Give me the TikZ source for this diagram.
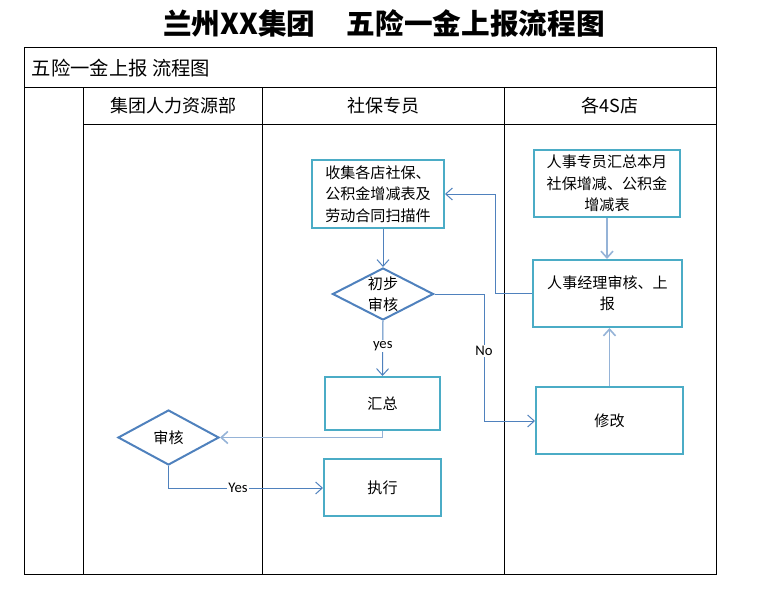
\documentclass[tikz,border=0pt]{standalone}
\usepackage{fontspec}
\setmainfont{Noto Sans CJK SC}
\newfontfamily\latinf{Carlito}
\usetikzlibrary{shapes.geometric,arrows.meta}
\definecolor{boxc}{HTML}{4BACC6}
\definecolor{linec}{HTML}{4F81BD}
\definecolor{lightc}{HTML}{95B3D7}
\tikzset{
  frame/.style={draw=black,line width=0.75pt},
  box/.style={draw=boxc,line width=1.5pt,rectangle,inner sep=0pt,align=center,font=\fontsize{11.3pt}{16pt}\selectfont},
  dia/.style={draw=linec,line width=1.5pt,diamond,inner sep=0pt},
  dtext/.style={align=center,font=\fontsize{11.3pt}{16pt}\selectfont},
  conn/.style={draw=linec,line width=0.75pt,-{Straight Barb[length=5pt,width=9pt]}},
  connl/.style={draw=lightc,line width=1.2pt,-{Straight Barb[length=5pt,width=9pt]}},
  lab/.style={fill=white,inner sep=1pt,font=\latinf\fontsize{11pt}{12pt}\selectfont},
  head/.style={font=\fontsize{13.5pt}{15pt}\selectfont}
}
\begin{document}
\begin{tikzpicture}[x=0.75pt,y=-0.75pt]
\useasboundingbox (0,0) rectangle (758,593);
% title
\node[font=\bfseries\fontsize{21.5pt}{26pt}\selectfont] (title) at (384,23) {兰州XX集团\hspace{1.1em}五险一金上报流程图};
% frame
\draw[frame] (24,47) rectangle (716,574);
\draw[frame] (24,87) -- (716,87);
\draw[frame] (83,124) -- (716,124);
\draw[frame] (83,87) -- (83,574);
\draw[frame] (262,87) -- (262,574);
\draw[frame] (504,87) -- (504,574);
\node[anchor=west,font=\fontsize{14.5pt}{16pt}\selectfont] (sub) at (27,68) {五险一金上报\ 流程图};
\node[head] (h1) at (173,106) {集团人力资源部};
\node[head] (h2) at (383,106) {社保专员};
\node[head] (h3) at (610,106) {各4S店};
% nodes
\node[box,minimum width=99pt,minimum height=51pt] (collect) at (378,194) {收集各店社保、\\公积金增减表及\\劳动合同扫描件};
\node[dia,minimum width=75.75pt,minimum height=39pt] (check1) at (383,294) {};
\node[dtext] at (check1) {初步\\审核};
\node[box,minimum width=86.25pt,minimum height=39.75pt] (sum) at (382.5,403.5) {汇总};
\node[box,minimum width=87.75pt,minimum height=42.75pt] (exec) at (382.5,487.5) {执行};
\node[dia,minimum width=75.75pt,minimum height=41.25pt] (check2) at (168.5,437.5) {};
\node[dtext] at (check2) {审核};
\node[box,minimum width=109.5pt,minimum height=50.25pt] (hr1) at (607,183.5) {人事专员汇总本月\\社保增减、公积金\\增减表};
\node[box,minimum width=111.75pt,minimum height=50.25pt] (hr2) at (607.5,293.5) {人事经理审核、上\\报};
\node[box,minimum width=110.25pt,minimum height=50.25pt] (fix) at (609.5,420.5) {修改};
% connectors
\draw[conn] (collect.south -| check1.north) -- (check1.north);
\draw[conn] (check1.south) -- node[lab,pos=0.45] {yes} (sum.north);
\draw[conn] (check1.east) -- (484,294) -- node[lab,pos=0.45] {No} (484,421) -- (fix.west |- 0,421);
\draw[connl] (hr1.south) -- (hr1.south |- hr2.north);
\draw[connl] (fix.north) -- (fix.north |- hr2.south);
\draw[conn] (hr2.west) -- (495,293.5) -- (495,194) -- (collect.east);
\draw[connl] (sum.south) -- (382.5,437.5) -- (check2.east);
\draw[conn] (check2.south) -- (168.5,488) -- node[lab,pos=0.45] {Yes} (exec.west |- 0,488);
\end{tikzpicture}
\end{document}
